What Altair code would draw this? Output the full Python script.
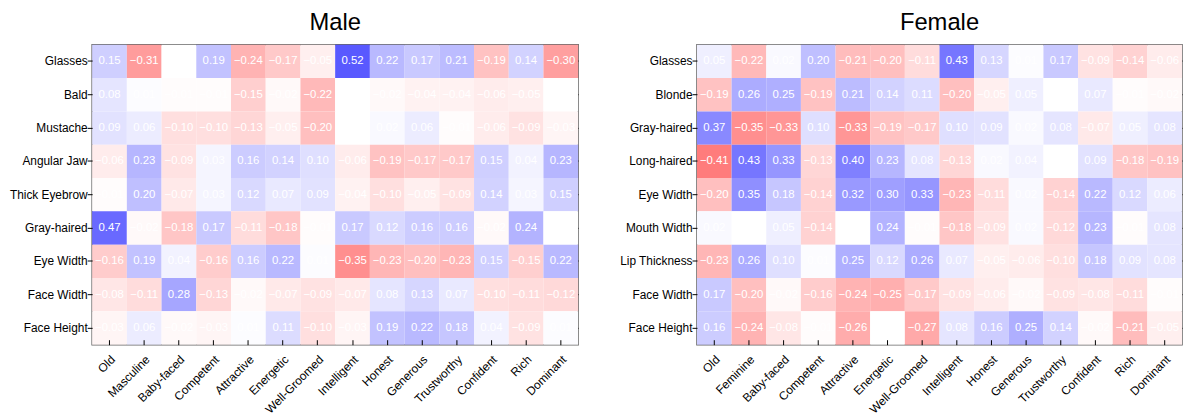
import altair as alt
import pandas as pd

FONT = "Liberation Sans, Arial, sans-serif"

traits_m = ["Old", "Masculine", "Baby-faced", "Competent", "Attractive", "Energetic",
            "Well-Groomed", "Intelligent", "Honest", "Generous", "Trustworthy",
            "Confident", "Rich", "Dominant"]
traits_f = ["Old", "Feminine", "Baby-faced", "Competent", "Attractive", "Energetic",
            "Well-Groomed", "Intelligent", "Honest", "Generous", "Trustworthy",
            "Confident", "Rich", "Dominant"]

feat_m = ["Glasses", "Bald", "Mustache", "Angular Jaw", "Thick Eyebrow",
          "Gray-haired", "Eye Width", "Face Width", "Face Height"]
feat_f = ["Glasses", "Blonde", "Gray-haired", "Long-haired", "Eye Width",
          "Mouth Width", "Lip Thickness", "Face Width", "Face Height"]

male_glasses = [0.15, -0.31, 0.00, 0.19, -0.24, -0.17, -0.05, 0.52, 0.22, 0.17, 0.21, -0.19, 0.14, -0.30]
male_bald = [0.08, 0.01, -0.01, -0.01, -0.15, -0.02, -0.22, 0.00, -0.02, -0.04, -0.04, -0.06, -0.05, 0.00]
male_mustache = [0.09, 0.06, -0.10, -0.10, -0.13, -0.05, -0.20, 0.00, 0.02, 0.06, -0.01, -0.06, -0.09, -0.03]
male_jaw = [-0.06, 0.23, -0.09, 0.03, 0.16, 0.14, 0.10, -0.06, -0.19, -0.17, -0.17, 0.15, 0.04, 0.23]
male_eyebrow = [-0.01, 0.20, -0.07, 0.03, 0.12, 0.07, 0.09, -0.04, -0.10, -0.05, -0.09, 0.14, 0.03, 0.15]
male_gray = [0.47, -0.02, -0.18, 0.17, -0.11, -0.18, -0.01, 0.17, 0.12, 0.16, 0.16, -0.02, 0.24, 0.00]
male_eyew = [-0.16, 0.19, 0.04, -0.16, 0.16, 0.22, 0.01, -0.35, -0.23, -0.20, -0.23, 0.15, -0.15, 0.22]
male_facew = [-0.08, -0.11, 0.28, -0.13, -0.02, -0.07, -0.09, -0.07, 0.08, 0.13, 0.07, -0.10, -0.11, -0.12]
male_faceh = [-0.03, 0.06, -0.02, -0.03, 0.01, 0.11, -0.10, -0.03, 0.19, 0.22, 0.18, 0.04, -0.09, 0.01]

fem_glasses = [0.05, -0.22, 0.02, 0.20, -0.21, -0.20, -0.11, 0.43, 0.13, 0.01, 0.17, -0.09, -0.14, -0.06]
fem_blonde = [-0.19, 0.26, 0.25, -0.19, 0.21, 0.14, 0.11, -0.20, -0.05, 0.05, 0.00, 0.07, -0.01, -0.02]
fem_gray = [0.37, -0.35, -0.33, 0.10, -0.33, -0.19, -0.17, 0.10, 0.09, 0.02, 0.08, -0.07, 0.05, 0.08]
fem_long = [-0.41, 0.43, 0.33, -0.13, 0.40, 0.23, 0.08, -0.13, 0.02, 0.04, 0.00, 0.09, -0.18, -0.19]
fem_eyew = [-0.20, 0.35, 0.18, -0.14, 0.32, 0.30, 0.33, -0.23, -0.11, 0.02, -0.14, 0.22, 0.12, 0.06]
fem_mouth = [0.02, 0.00, 0.05, -0.14, 0.00, 0.24, -0.01, -0.18, -0.09, 0.02, -0.12, 0.23, -0.01, 0.08]
fem_lip = [-0.23, 0.26, 0.10, 0.01, 0.25, 0.12, 0.26, 0.07, -0.05, -0.06, -0.10, 0.18, 0.09, 0.08]
fem_facew = [0.17, -0.20, -0.02, -0.16, -0.24, -0.25, -0.17, -0.09, -0.06, -0.02, -0.09, -0.08, -0.11, -0.01]
fem_faceh = [0.16, -0.24, -0.08, -0.01, -0.26, 0.00, -0.27, 0.08, 0.16, 0.25, 0.14, -0.02, -0.21, -0.05]

male_vals = [male_glasses, male_bald, male_mustache, male_jaw, male_eyebrow,
             male_gray, male_eyew, male_facew, male_faceh]
fem_vals = [fem_glasses, fem_blonde, fem_gray, fem_long, fem_eyew,
            fem_mouth, fem_lip, fem_facew, fem_faceh]


def to_df(rows, cols, vals):
    recs = []
    for r, row in zip(rows, vals):
        for c, v in zip(cols, row):
            recs.append({"feature": r, "trait": c, "v": v})
    return pd.DataFrame(recs)


color_scale = alt.Scale(domain=[-0.8, 0, 0.8], range=["#ff0000", "#ffffff", "#0000ff"],
                        interpolate="rgb")


def panel(title, rows, cols, vals, w):
    df = to_df(rows, cols, vals)
    xs = alt.X("trait:N", sort=cols, title=None,
               axis=alt.Axis(labelAngle=-45, labelAlign="right", labelBaseline="top",
                             labelFont=FONT, labelFontSize=12, labelColor="black",
                             tickColor="black", tickSize=5, domain=False,
                             offset=-5, labelPadding=9))
    ys = alt.Y("feature:N", sort=rows, title=None,
               axis=alt.Axis(labelFont=FONT, labelFontSize=12, labelColor="black",
                             tickColor="black", tickSize=5, domain=False, labelPadding=0))
    rect = alt.Chart(df).mark_rect().encode(
        x=xs, y=ys,
        color=alt.Color("v:Q", scale=color_scale, legend=None))
    text = alt.Chart(df).mark_text(color="white", font=FONT, fontSize=11.5).encode(
        x=alt.X("trait:N", sort=cols, title=None,
                axis=alt.Axis(orient="top", labels=False, tickColor="black", tickSize=5,
                              domain=False, offset=-5)),
        y=alt.Y("feature:N", sort=rows, title=None,
                axis=alt.Axis(orient="right", labels=False, tickColor="black", tickSize=5,
                              domain=False, offset=-5)),
        text=alt.Text("v:Q", format=".2f"))
    return alt.layer(rect, text).resolve_axis(x="independent", y="independent").properties(
        width=w, height=303,
        title=alt.TitleParams(title, font=FONT, fontSize=24, fontWeight="normal",
                              anchor="middle", offset=9, color="black"))


chart = alt.hconcat(
    panel("Male", feat_m, traits_m, male_vals, 491),
    panel("Female", feat_f, traits_f, fem_vals, 490),
    spacing=120, bounds="flush",
).properties(
    padding={"left": 0, "top": 0, "right": 0, "bottom": 0}
).configure_view(stroke="#666666", strokeWidth=1.5)

chart.save("out.html", embed_options={"renderer": "svg", "actions": False})
